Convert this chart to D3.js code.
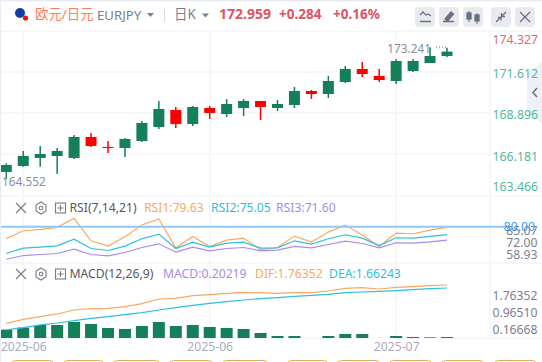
<!DOCTYPE html>
<html>
<head>
<meta charset="utf-8">
<script src="https://cdn.jsdelivr.net/npm/d3@7"></script>
<style>
  html, body { margin: 0; padding: 0; background: #fff; overflow: hidden; }
  text { font-family: "Noto Sans", "Noto Sans CJK SC", sans-serif; }
  .domain { display: none; }
</style>
</head>
<body>
<script>
/***** Data *****/
// green = up, red = down on this chart
var open_ = [165.015,165.411,165.939,166.071,165.939,167.324,166.664,166.598,167.060,167.984,169.105,168.182,169.237,168.841,169.237,169.699,169.237,169.435,170.359,170.161,170.952,171.810,171.348,171.018,171.678,172.206,172.668];
var close_ = [165.477,166.071,166.202,166.400,167.324,166.730,166.664,167.192,168.248,169.171,168.182,169.303,168.907,169.501,169.699,169.303,169.501,170.359,170.161,171.018,171.810,171.480,171.084,172.338,172.338,172.668,172.959];
var high_ = [165.587,166.400,166.730,166.598,167.456,167.588,167.060,167.258,168.379,169.699,169.303,169.369,169.369,169.831,169.831,169.699,169.765,170.622,170.425,171.348,172.008,172.272,171.810,172.470,172.470,173.241,173.220];
var low_ = [164.552,165.367,165.367,164.883,165.873,166.664,166.268,166.005,166.994,167.852,167.918,168.050,168.511,168.643,168.709,168.445,169.039,169.237,169.831,169.897,170.886,171.282,170.952,170.820,171.612,172.206,172.602];

var rsi1 = [72.42,77.51,78.36,79.63,85.35,71.15,67.76,73.69,81.11,84.93,66.70,73.91,67.55,71.57,72.85,65.43,66.91,74.12,70.30,76.66,81.11,74.75,67.55,76.03,75.60,77.93,79.63];
var rsi2 = [63.09,66.49,67.12,67.97,72.21,66.27,65.00,67.76,72.42,75.39,66.27,70.30,67.12,69.67,70.30,66.49,66.70,71.15,69.03,72.42,74.97,72.85,68.18,73.06,72.85,73.91,75.05];
var rsi3 = [59.49,61.82,62.46,63.09,65.85,62.46,61.61,63.73,66.91,69.24,63.94,67.12,64.79,66.27,66.91,64.79,65.21,67.55,66.70,68.82,70.94,69.45,66.70,69.88,69.67,70.51,71.60];

var dif = [0.472,0.607,0.697,0.787,0.921,0.966,0.977,1.034,1.135,1.292,1.314,1.404,1.438,1.483,1.516,1.505,1.483,1.505,1.505,1.561,1.651,1.674,1.629,1.685,1.707,1.741,1.76352];
var dea = [0.248,0.326,0.416,0.483,0.562,0.641,0.697,0.764,0.832,0.921,1.000,1.079,1.146,1.202,1.258,1.303,1.337,1.382,1.415,1.449,1.505,1.528,1.550,1.572,1.606,1.640,1.66243];
var macd = [0.449,0.517,0.606,0.606,0.707,0.640,0.505,0.472,0.573,0.707,0.573,0.606,0.539,0.505,0.472,0.337,0.236,0.236,0.100,0.236,0.303,0.303,0.100,0.236,0.202,0.190,0.20219];

var priceTicks = [174.327,171.612,168.896,166.181,163.466];
var rsiTicks = [85.07,72.00,58.93];
var rsiLevel = 80;
var macdTicks = [1.76352,0.96510,0.16668];
var dateTickIndex = [1,12,23];
var dateTickLabels = ["2025-06","2025-06","2025-07"];
var highIndex = 25, lowIndex = 0;

/***** Configuration *****/
var width = 542, height = 362;
var plotRight = 490;
var pane = { mainTop: 31, mainBottom: 196, rsiBottom: 263, macdBottom: 338 };
var colors = { up: "#138059", down: "#ff0000", grid: "#f4f5f9", axis: "#7d8090", orange: "#f7a95f", cyan: "#2cc1dc", purple: "#a98bea" };

/***** Scales *****/
var x = d3.scaleLinear().domain([0, 26]).range([6.3, 447]);
var y = d3.scaleLinear().domain([166.181, 171.612]).range([154.3, 72]);
var yRsi = d3.scaleLinear().domain([58.93, 80]).range([260.1, 226.8]);
var yRsiLabel = d3.scaleLinear().domain([58.93, 85.07]).range([254.3, 230.3]);
var yMacd = d3.scaleLinear().domain([0, 1.76352]).range([337.3, 285]);
var yBar = d3.scaleLinear().domain([0, 1]).range([343, 313.3]);
var yMacdLabel = d3.scaleLinear().domain([0.16668, 1.76352]).range([329.3, 296]);

var svg = d3.select("body").append("svg")
  .attr("width", width).attr("height", height)
  .style("display", "block");

svg.append("defs").append("clipPath").attr("id", "plot")
  .append("rect").attr("x", 1).attr("y", pane.mainTop).attr("width", plotRight - 1).attr("height", pane.macdBottom - pane.mainTop);

/***** Grid and frame *****/
var grid = svg.append("g").attr("stroke", colors.grid).attr("stroke-width", 1.6);
grid.selectAll(".h").data(priceTicks.slice(1, 4)).join("line")
  .attr("x1", 1).attr("x2", plotRight).attr("y1", d => y(d)).attr("y2", d => y(d));
grid.selectAll(".v").data(dateTickIndex).join("line")
  .attr("x1", d => x(d)).attr("x2", d => x(d)).attr("y1", pane.mainTop).attr("y2", pane.macdBottom);
grid.selectAll(".p").data([pane.mainTop, pane.mainBottom, pane.rsiBottom, pane.macdBottom]).join("line")
  .attr("x1", 1).attr("x2", width).attr("y1", d => d).attr("y2", d => d);
grid.append("line").attr("x1", plotRight).attr("x2", plotRight).attr("y1", pane.mainTop).attr("y2", pane.macdBottom);

svg.append("rect").attr("width", width).attr("height", 1.5).attr("fill", "#e9ecf5");
svg.append("rect").attr("width", 1).attr("height", height).attr("fill", "#e9ecf5");

// side collapse tab, sits under the price labels
svg.append("path").attr("d", "M542,62L527,73V112L542,124Z").attr("fill", "#eff0f5");
svg.append("path").attr("d", "M537,88l-4,4.5l4,4.5").attr("fill", "none").attr("stroke", "#6b7080").attr("stroke-width", 1.5);

/***** Candles *****/
var plot = svg.append("g").attr("clip-path", "url(#plot)");
var candles = plot.selectAll(".candle").data(d3.range(open_.length)).join("g").attr("class", "candle");
var candleColor = i => close_[i] > open_[i] ? colors.up : colors.down;

candles.append("line")
  .attr("x1", i => x(i)).attr("x2", i => x(i))
  .attr("y1", i => y(high_[i])).attr("y2", i => y(low_[i]))
  .attr("stroke", candleColor).attr("stroke-width", 1.5);
candles.append("rect")
  .attr("x", i => x(i) - 5.5).attr("width", 11)
  .attr("y", i => y(Math.max(open_[i], close_[i])))
  .attr("height", i => Math.max(1, Math.abs(y(open_[i]) - y(close_[i]))))
  .attr("fill", candleColor);

/***** RSI *****/
var rsiLine = d3.line().x((d, i) => x(i)).y(d => yRsi(d));
[[rsi1, colors.orange], [rsi2, colors.cyan], [rsi3, colors.purple]].forEach(function (s) {
  plot.append("path").attr("d", rsiLine(s[0])).attr("fill", "none").attr("stroke", s[1]).attr("stroke-width", 1.2);
});
svg.append("line").attr("x1", 1).attr("x2", 507).attr("y1", yRsi(rsiLevel)).attr("y2", yRsi(rsiLevel))
  .attr("stroke", "#8fc8f6").attr("stroke-width", 2);

/***** MACD *****/
var macdLine = d3.line().x((d, i) => x(i)).y(d => yMacd(d));
plot.selectAll(".bar").data(macd).join("rect")
  .attr("x", (d, i) => x(i) - 6).attr("width", 12)
  .attr("y", d => yBar(d)).attr("height", d => yBar(0) - yBar(d))
  .attr("fill", colors.up);
[[dif, colors.orange], [dea, colors.cyan]].forEach(function (s) {
  plot.append("path").attr("d", macdLine(s[0])).attr("fill", "none").attr("stroke", s[1]).attr("stroke-width", 1.2);
});

/***** Axes *****/
var priceLabelY = d => Math.max(40, Math.min(187, y(d) + 2));
svg.selectAll(".price").data(priceTicks).join("text")
  .attr("x", 538).attr("y", priceLabelY).attr("dy", "0.35em").attr("text-anchor", "end")
  .attr("font-size", 12.3)
  .attr("fill", (d, i) => i == 0 ? "#dd6a74" : "#4fb99d")
  .text(d => d.toFixed(3));

function valueAxis(scale, values, fmt) {
  var g = svg.append("g").attr("transform", "translate(537.5,0)")
    .call(d3.axisLeft(scale).tickValues(values).tickSize(0).tickPadding(0).tickFormat(fmt));
  g.selectAll("text").attr("font-size", 12.2).attr("fill", colors.axis);
  return g;
}
valueAxis(yRsiLabel, rsiTicks, d3.format(".2f"));
valueAxis(yMacdLabel, macdTicks, d3.format(".5f"));

svg.append("text").attr("x", 535).attr("y", yRsi(rsiLevel)).attr("dy", "0.35em").attr("text-anchor", "end")
  .attr("font-size", 12.2).attr("fill", "#3a9cf0").text(rsiLevel.toFixed(2));

var xAxis = d3.axisBottom(x).tickValues(dateTickIndex).tickSize(0).tickPadding(0)
  .tickFormat((d, i) => dateTickLabels[i]);
var xAxisG = svg.append("g").attr("transform", "translate(0,342.5)").call(xAxis);
xAxisG.selectAll("text").attr("font-size", 12.2).attr("fill", "#a9abbd").attr("dy", "0.72em");

/***** High / low marks *****/
svg.append("text").attr("x", 431).attr("y", 49).attr("dy", "0.35em").attr("text-anchor", "end")
  .attr("font-size", 11.8).attr("fill", "#8b8e9b").text(high_[highIndex].toFixed(3));
svg.append("line").attr("x1", 436).attr("x2", x(highIndex) + 16).attr("y1", y(high_[highIndex])).attr("y2", y(high_[highIndex]))
  .attr("stroke", "#a5a8b4").attr("stroke-width", 2).attr("stroke-dasharray", "1,2");
svg.append("text").attr("x", 2).attr("y", y(low_[lowIndex]) + 3).attr("dy", "0.35em")
  .attr("font-size", 11.8).attr("fill", "#8b8e9b").text(low_[lowIndex].toFixed(3));

/***** Header *****/
svg.append("circle").attr("cx", 20).attr("cy", 13).attr("r", 5).attr("fill", "#123f9c");
svg.append("circle").attr("cx", 25.5).attr("cy", 18).attr("r", 2.6).attr("fill", "#f01010");
function label(txt, xp, yp, size, fill, weight) {
  return svg.append("text").attr("x", xp).attr("y", yp).attr("dy", "0.35em")
    .attr("font-size", size).attr("fill", fill).attr("font-weight", weight || 400).text(txt);
}
function caret(xp, yp, fill) {
  svg.append("path").attr("d", "M" + (xp - 3.5) + "," + (yp - 2) + "h7l-3.5,4z").attr("fill", fill);
}
label("欧元/日元", 35, 14.5, 13.4, "#ff7d5c");
label("EURJPY", 97, 15.5, 13.2, "#7a7f8f");
caret(150.5, 15, "#7a7f8f");
svg.append("line").attr("x1", 164.5).attr("x2", 164.5).attr("y1", 9).attr("y2", 22).attr("stroke", "#d8dae2");
label("日K", 174, 14.5, 13.5, "#7a7f8f");
caret(205.5, 15.5, "#7a7f8f");
label("172.959", 219, 14.5, 14, "#de5462", 700);
label("+0.284", 279, 14.5, 13.5, "#de5462", 700);
label("+0.16%", 333, 14.5, 13.5, "#de5462", 700);

// toolbar buttons
var buttonX = [415, 439, 463, 491, 515];
svg.selectAll(".btn").data(buttonX).join("rect")
  .attr("x", d => d).attr("y", 7).attr("width", 20).attr("height", 20).attr("rx", 4).attr("fill", "#e8eaf0");
var icon = svg.append("g").attr("fill", "none").attr("stroke", "#6b7080").attr("stroke-width", 1.3);
icon.append("path").attr("d", "M420,15l3,-3l3,3l2,-1l3,2M420,21.5h11");
icon.append("path").attr("d", "M443,21.5h11M445,19l6,-7l2.5,2l-6,7z").attr("fill", "#6b7080");
icon.append("path").attr("d", "M469,11v11M477,13v11").attr("stroke-width", 1);
icon.append("rect").attr("x", 467).attr("y", 13).attr("width", 4).attr("height", 6).attr("fill", "#6b7080");
icon.append("rect").attr("x", 475).attr("y", 15).attr("width", 4).attr("height", 6).attr("fill", "#6b7080");
icon.append("path").attr("d", "M496,22l4,-4M498,17.5h3v3M506,12l-4,4M501.5,13v3.5h3.5");
icon.append("path").attr("d", "M520,12l10,10M530,12l-10,10");

/***** Pane headers *****/
function paneHeader(yp, title, items) {
  var g = svg.append("g").attr("fill", "none").attr("stroke", "#777b88").attr("stroke-width", 1.1);
  g.append("path").attr("d", "M16," + (yp - 5) + "l10,10M26," + (yp - 5) + "l-10,10");
  g.append("path").attr("d", "M41," + (yp - 6) + "l5,3v6l-5,3l-5,-3v-6z");
  g.append("circle").attr("cx", 41).attr("cy", yp).attr("r", 1.8);
  g.append("rect").attr("x", 55.5).attr("y", yp - 5).attr("width", 10).attr("height", 10);
  g.append("path").attr("d", "M57.5," + yp + "h6M60.5," + (yp - 3) + "v6");
  label(title, 69.5, yp, 12.2, "#55585f");
  items.forEach(function (t) { label(t[0], t[1], yp, 12.2, t[2]); });
}
paneHeader(208, "RSI(7,14,21)", [
  ["RSI1:79.63", 144, colors.orange],
  ["RSI2:75.05", 211, colors.cyan],
  ["RSI3:71.60", 276, colors.purple]
]);
paneHeader(274, "MACD(12,26,9)", [
  ["MACD:0.20219", 163, colors.purple],
  ["DIF:1.76352", 255, colors.orange],
  ["DEA:1.66243", 329, colors.cyan]
]);

/***** Buttons cut off at the bottom *****/
var pillLeft = [11, 63, 113, 169, 222, 287, 337, 389, 441, 494];
var pillRight = [53, 103, 159, 212, 267, 327, 379, 431, 483, 536];
svg.selectAll(".pill").data(pillLeft).join("rect")
  .attr("x", d => d + 0.5).attr("y", 360.5).attr("rx", 4)
  .attr("width", (d, i) => pillRight[i] - d).attr("height", 12)
  .attr("fill", "none").attr("stroke", "#e3ab55");
</script>
</body>
</html>
